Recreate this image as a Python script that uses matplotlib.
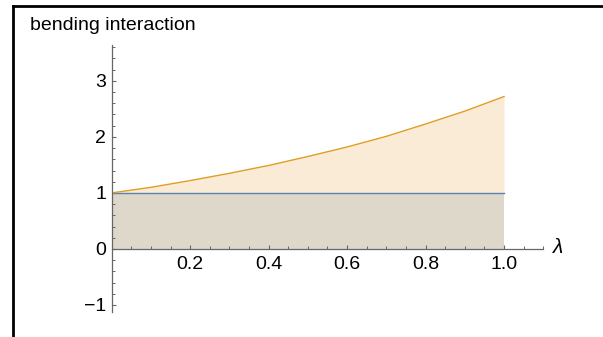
import matplotlib
matplotlib.use("Agg")
import matplotlib.pyplot as plt
from matplotlib.lines import Line2D
from matplotlib.ticker import MultipleLocator, FixedLocator
import numpy as np

plt.rcParams['font.family'] = ['Liberation Sans', 'DejaVu Sans']

# sampled curves
lam = [0.0, 0.1, 0.2, 0.3, 0.4, 0.5, 0.6, 0.7, 0.8, 0.9, 1.0]
upper = [1.00, 1.10, 1.22, 1.35, 1.49, 1.65, 1.82, 2.01, 2.23, 2.46, 2.72]
base = [1.0] * len(lam)

xticks = [0.2, 0.4, 0.6, 0.8, 1.0]
yticks = [-1, 0, 1, 2, 3]
ytick_labels = ['\u22121', '0', '1', '2', '3']

blue = '#5E81B5'
orange = '#E19C24'
upper_fill = '#FAEBD6'
lower_fill = '#DED8CB'
axis_gray = '#666666'

fig = plt.figure(figsize=(6.03, 3.37), dpi=100)
ax = fig.add_axes([0.1852, 0.0742, 0.7158, 0.7923])

ax.fill_between(lam, base, upper, color=upper_fill, lw=0)
ax.fill_between(lam, 0, base, color=lower_fill, lw=0)
ax.plot(lam, base, color=blue, lw=1.0)
ax.plot(lam, upper, color=orange, lw=1.0)

ax.set_xlim(0, 1.1)
ax.set_ylim(-1.125, 3.64)

for s in ['top', 'right']:
    ax.spines[s].set_visible(False)
ax.spines['bottom'].set_position(('data', 0))
for s in ['left', 'bottom']:
    ax.spines[s].set_color(axis_gray)
    ax.spines[s].set_linewidth(0.9)

ax.xaxis.set_major_locator(FixedLocator(xticks))
ax.xaxis.set_minor_locator(MultipleLocator(0.05))
ax.yaxis.set_major_locator(FixedLocator(yticks))
ax.yaxis.set_minor_locator(MultipleLocator(0.2))
ax.set_xticklabels(['%.1f' % t for t in xticks])
ax.set_yticklabels(ytick_labels)

ax.tick_params(which='both', direction='in', color=axis_gray, labelsize=14, labelcolor='black')
ax.tick_params(which='major', length=3.0, width=0.8)
ax.tick_params(which='minor', length=2.0, width=0.7)
ax.tick_params(axis='x', pad=5)
ax.tick_params(axis='y', pad=4)

ax.text(1.125, 0.02, '\u03bb', fontsize=15, style='italic', ha='left', va='center')

fig.text(30 / 603, 1 - 25 / 337, 'bending interaction', fontsize=14, ha='left', va='center')

# frame lines along the top and left edges
fig.add_artist(Line2D([13 / 603, 1], [1 - 6 / 337, 1 - 6 / 337], color='black', lw=2.0, transform=fig.transFigure))
fig.add_artist(Line2D([13 / 603, 13 / 603], [0, 1 - 6 / 337], color='black', lw=2.0, transform=fig.transFigure))

fig.savefig('out.png', dpi=100)
